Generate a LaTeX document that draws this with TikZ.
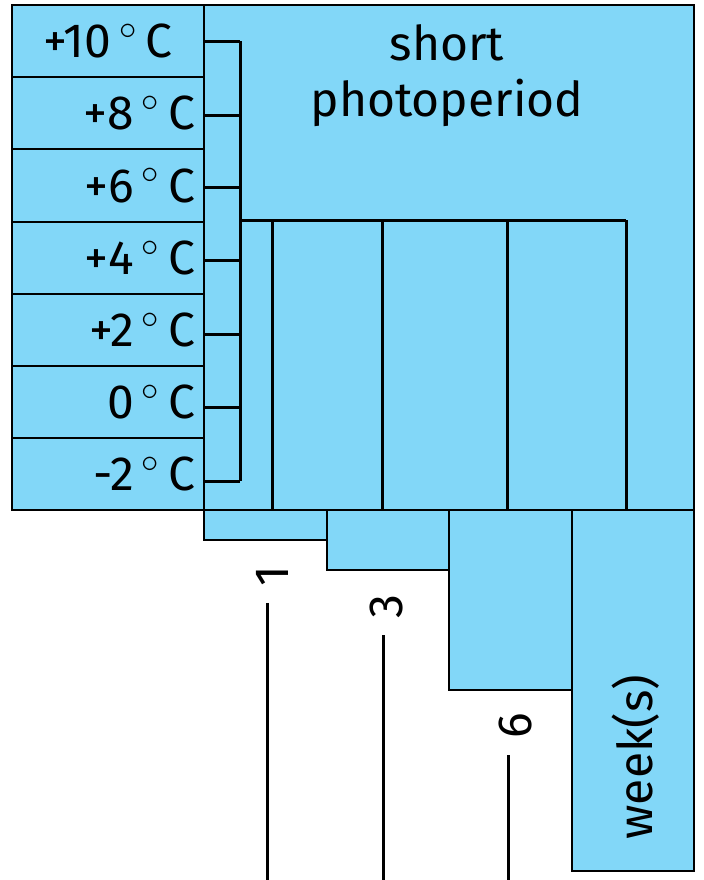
\documentclass[tikz,border=0pt]{standalone}
\usepackage{fontspec}
\setmainfont{Fira Sans}
\usepackage{xcolor}
\usetikzlibrary{positioning}
\definecolor{skyfill}{RGB}{130,215,248}
\newcommand{\degC}{\,$^\circ$\,C}

\begin{document}
\begin{tikzpicture}[
    x=0.5pt, y=-0.5pt,
    every node/.style={font=\fontsize{24}{28}\selectfont, inner sep=0pt},
    box/.style={draw=black, fill=skyfill, line width=1pt, outer sep=0pt},
    temp/.style={box, minimum width=96pt, minimum height=36.1pt,
                 text width=87pt, align=right},
    wbox/.style={box, minimum width=61.25pt},
    tree/.style={draw=black, line width=1.5pt},
    stem/.style={draw=black, line width=1.5pt, shorten <=8pt}
  ]
  \useasboundingbox (0,0) rectangle (704,880);

  % temperature column
  \node[temp, align=center] (t10) at (108,41.1)  {+10\degC};
  \node[temp, below=0pt of t10] (t8)  {+8\degC};
  \node[temp, below=0pt of t8]  (t6)  {+6\degC};
  \node[temp, below=0pt of t6]  (t4)  {+4\degC};
  \node[temp, below=0pt of t4]  (t2)  {+2\degC};
  \node[temp, below=0pt of t2]  (t0)  {0\degC};
  \node[temp, below=0pt of t0]  (tm2) {-2\degC};

  % photoperiod block
  \node[box, minimum width=245pt, minimum height=252.5pt] (photo) at (449,257.5) {};
  \node[align=center] (photolbl) at (447,76) {short\\photoperiod};

  % week steps
  \node[wbox, minimum height=15pt, anchor=north west]   (w1) at (204,510) {};
  \node[wbox, minimum height=30pt, right=0pt of w1.north east, anchor=north west] (w3) {};
  \node[wbox, minimum height=90pt, right=0pt of w3.north east, anchor=north west] (w6) {};
  \node[wbox, minimum height=180.5pt, right=0pt of w6.north east, anchor=north west] (wk) {};
  \node[rotate=90] (wklbl) at (636,757) {week(s)};

  % bracket
  \coordinate (b10) at (240,41);
  \coordinate (b8)  at (240,115);
  \coordinate (b6)  at (240,187);
  \coordinate (b4)  at (240,260);
  \coordinate (b2)  at (240,334);
  \coordinate (b0)  at (240,407);
  \coordinate (bm2) at (240,481);
  \draw[tree] (t10.east |- b10) -- (b10);
  \draw[tree] (t8.east |- b8)   -- (b8);
  \draw[tree] (t6.east |- b6)   -- (b6);
  \draw[tree] (t4.east |- b4)   -- (b4);
  \draw[tree] (t2.east |- b2)   -- (b2);
  \draw[tree] (t0.east |- b0)   -- (b0);
  \draw[tree] (tm2.east |- bm2) -- (bm2);
  \draw[tree] (b10) -- (bm2);

  \coordinate (j)  at (240,220);
  \coordinate (c1) at (272,220);
  \coordinate (c3) at (382,220);
  \coordinate (c6) at (507,220);
  \coordinate (cw) at (626,220);
  \draw[tree] (j) -- (cw);
  \draw[tree] (c1) -- (c1 |- photo.south);
  \draw[tree] (c3) -- (c3 |- photo.south);
  \draw[tree] (c6) -- (c6 |- photo.south);
  \draw[tree] (cw) -- (cw |- photo.south);

  % week marks
  \node[rotate=90] (l1) at (272,576) {1};
  \node[rotate=90] (l3) at (386,607) {3};
  \node[rotate=90] (l6) at (515,726) {6};
  \coordinate (e1) at (267,880);
  \coordinate (e3) at (383,880);
  \coordinate (e6) at (508,880);
  \draw[stem] (l1.west -| e1) -- (e1);
  \draw[stem] (l3.west -| e3) -- (e3);
  \draw[stem] (l6.west -| e6) -- (e6);
\end{tikzpicture}
\end{document}
